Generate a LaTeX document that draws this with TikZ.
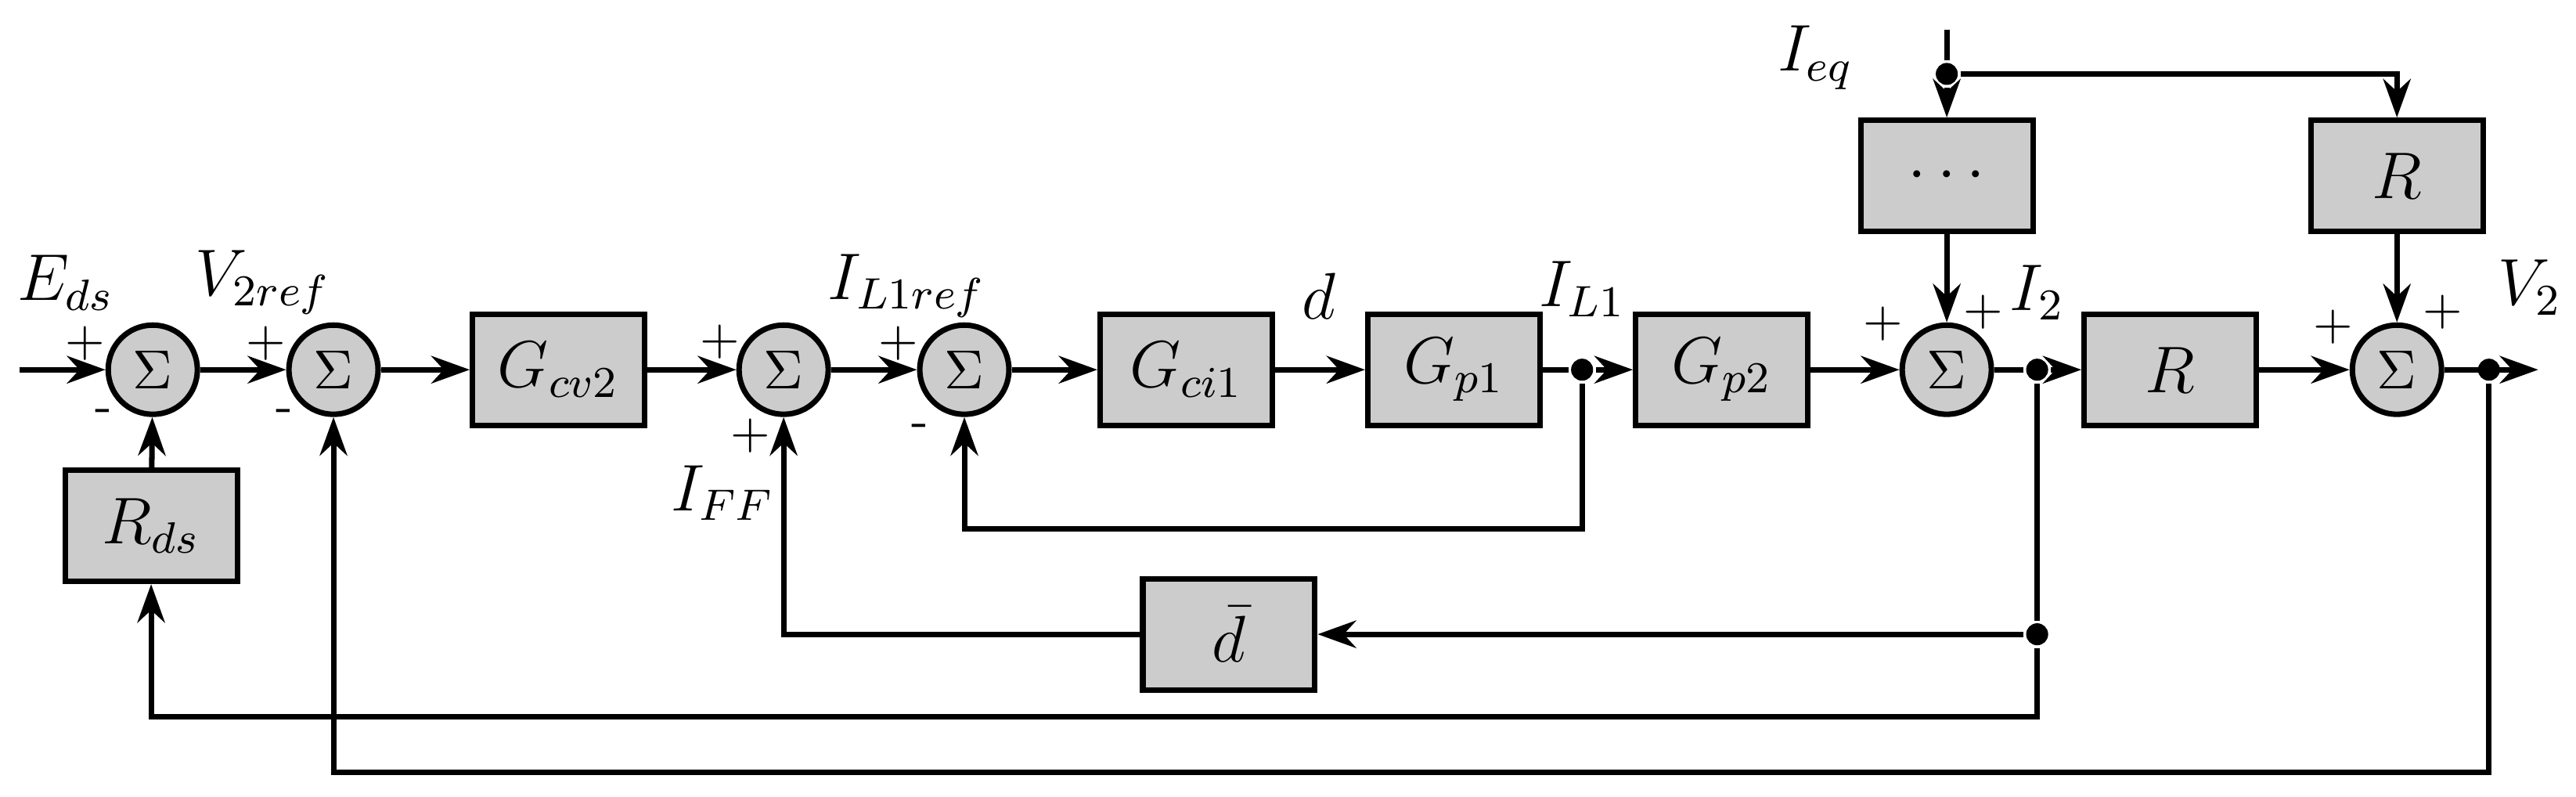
\documentclass[tikz,border=0pt]{standalone}
\usetikzlibrary{arrows.meta}
\begin{document}
\begin{tikzpicture}[x=0.0105cm, y=-0.0105cm, thick,
    line width=1pt, >={Stealth[length=7pt,width=5pt]},
    block/.style={rectangle, draw, fill=gray!40, minimum width=1.1cm, minimum height=0.71cm, inner sep=0pt, font=\large},
    sum/.style={circle, draw, fill=gray!40, minimum size=0.57cm, inner sep=0pt},
    dot/.style={circle, fill, minimum size=4pt, inner sep=0pt},
    lbl/.style={inner sep=0pt, font=\large},
    sign/.style={font=\small, inner sep=0pt}]
        \useasboundingbox (0,0) rectangle (1568,485);
        % Summing junctions
        \node[sum] (S1) at (93,225) {$\Sigma$};
        \node[sum] (S2) at (203,225) {$\Sigma$};
        \node[sum] (S3) at (477,225) {$\Sigma$};
        \node[sum] (S4) at (587,225) {$\Sigma$};
        \node[sum] (S5) at (1185,225) {$\Sigma$};
        \node[sum] (S6) at (1459,225) {$\Sigma$};
        
        % Blocks
        \node[block] (Gcv) at (340,225) {$G_{cv2}$};
        \node[block] (Gci) at (722,225) {$G_{ci1}$};
        \node[block] (Gp1) at (885,225) {$G_{p1}$};
        \node[block] (Gp2) at (1048,225) {$G_{p2}$};
        \node[block] (R) at (1321,225) {$R$};
        \node[block] (Rds) at (92,320) {$R_{ds}$};
        \node[block] (Dbar) at (748,386) {$\bar{d}$};
        \node[block] (Dots) at (1185,107) {$\cdots$};
        \node[block] (Rt) at (1459,107) {$R$};
        
        % Branch points
        \node[dot] (P1) at (963,225) {};
        \node[dot] (P2) at (1240,225) {};
        \node[dot] (P3) at (1515,225) {};
        \node[dot] (P4) at (1240,386) {};
        \node[dot] (P5) at (1185,45) {};
        \coordinate (In) at (12,225);
        \coordinate (Out) at (1545,225);
        \coordinate (Ieq) at (1185,18);
        
        % Forward path
        \draw[->] (In) -- (S1);
        \draw[->] (S1) -- (S2);
        \draw[->] (S2) -- (Gcv);
        \draw[->] (Gcv) -- (S3);
        \draw[->] (S3) -- (S4);
        \draw[->] (S4) -- (Gci);
        \draw[->] (Gci) -- (Gp1);
        \draw (Gp1) -- (P1);
        \draw[->] (P1) -- (Gp2);
        \draw[->] (Gp2) -- (S5);
        \draw (S5) -- (P2);
        \draw[->] (P2) -- (R);
        \draw[->] (R) -- (S6);
        \draw[->] (S6) -- (Out);
        
        % Disturbance inputs
        \draw (Ieq) -- (P5);
        \draw[->] (P5) -- (Dots);
        \draw[->] (P5) -| (Rt);
        \draw[->] (Dots) -- (S5);
        \draw[->] (Rt) -- (S6);
        
        % Feedback paths
        \draw[->] (P1) |- (587,322) -- (S4);
        \draw (P2) -- (P4);
        \draw[->] (P4) -- (Dbar);
        \draw[->] (Dbar) -| (S3);
        \draw[->] (P4) |- (92,436) -- (Rds);
        \draw[->] (Rds) -- (S1);
        \draw[->] (P3) |- (203,470) -- (S2);
        
        % Signal labels
        \node[lbl] (LE) at (40,172) {$E_{ds}$};
        \node[lbl] (LV) at (160,172) {$V_{2ref}$};
        \node[lbl] (LI) at (552,174) {$I_{L1ref}$};
        \node[lbl] (Ld) at (803,180) {$d$};
        \node[lbl] (LIL) at (963,176) {$I_{L1}$};
        \node[lbl] (LI2) at (1240,178) {$I_2$};
        \node[lbl] (LV2) at (1540,175) {$V_2$};
        \node[lbl] (LFF) at (440,300) {$I_{FF}$};
        \node[lbl] (Leq) at (1105,35) {$I_{eq}$};
        
        % Signs
        \node[sign] (a1) at (52,209) {+};
        \node[sign] (a2) at (63,253) {-};
        \node[sign] (a3) at (162,209) {+};
        \node[sign] (a4) at (173,253) {-};
        \node[sign] (a5) at (438,208) {+};
        \node[sign] (a6) at (457,265) {+};
        \node[sign] (a7) at (547,209) {+};
        \node[sign] (a8) at (560,262) {-};
        \node[sign] (a9) at (1146,197) {+};
        \node[sign] (a10) at (1207,190) {+};
        \node[sign] (a11) at (1420,199) {+};
        \node[sign] (a12) at (1487,190) {+};
\end{tikzpicture}
\end{document}
